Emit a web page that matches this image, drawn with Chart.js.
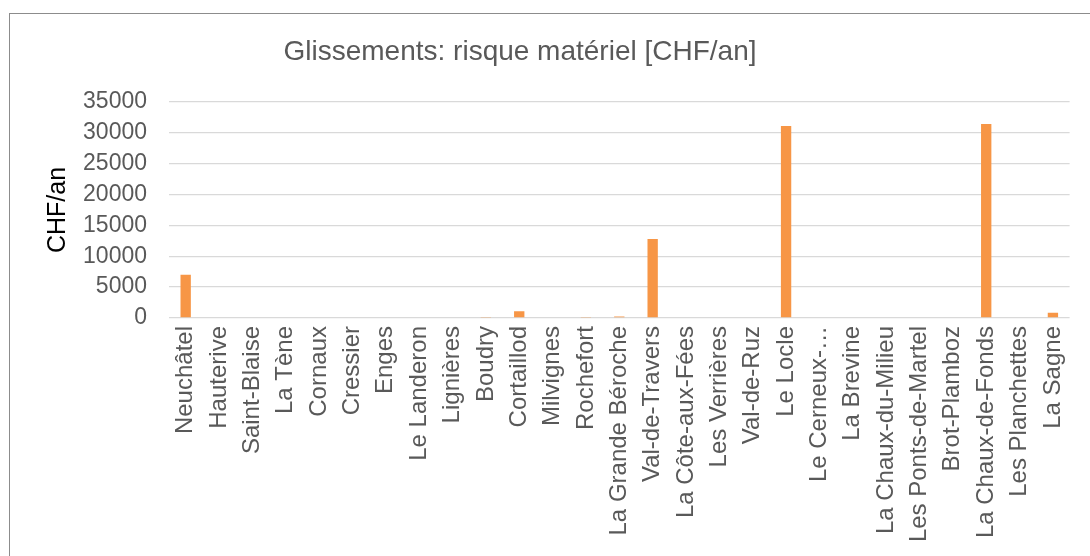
<!DOCTYPE html>
<html>
<head>
<meta charset="utf-8">
<script src="https://cdn.jsdelivr.net/npm/chart.js@4"></script>
<style>
  html, body { margin: 0; padding: 0; background: #fff; overflow: hidden; width: 1090px; height: 556px; }
  #frame { position: absolute; left: 9px; top: 13px; width: 1200px; height: 700px; border: 1px solid #8c8c8c; }
  #wrap { position: absolute; left: 9px; top: 13px; width: 1081px; height: 543px; }
</style>
</head>
<body>
<div id="frame"></div>
<div id="wrap"><canvas id="chart"></canvas></div>
<script>
// --- data ---
const communes = [
  'Neuchâtel', 'Hauterive', 'Saint-Blaise', 'La Tène', 'Cornaux', 'Cressier', 'Enges',
  'Le Landeron', 'Lignières', 'Boudry', 'Cortaillod', 'Milvignes', 'Rochefort',
  'La Grande Béroche', 'Val-de-Travers', 'La Côte-aux-Fées', 'Les Verrières', 'Val-de-Ruz',
  'Le Locle', 'Le Cerneux-…', 'La Brevine', 'La Chaux-du-Milieu', 'Les Ponts-de-Martel',
  'Brot-Plamboz', 'La Chaux-de-Fonds', 'Les Planchettes', 'La Sagne'
];
const risqueMateriel = [
  7000, 0, 0, 0, 0, 0, 0,
  0, 0, 180, 1100, 0, 170,
  230, 12800, 0, 0, 0,
  31100, 0, 0, 0, 0,
  0, 31450, 0, 870
];
const yTicks = [0, 5000, 10000, 15000, 20000, 25000, 30000, 35000];

const titleText = 'Glissements: risque matériel [CHF/an]';
const grey = '#595959';
const fontFamily = '"Liberation Sans", Arial, sans-serif';

// title drawn at a fixed spot (it is not centred over the plot in the original)
const titlePlugin = {
  id: 'fixedTitle',
  afterDraw(chart) {
    const c = chart.ctx;
    c.save();
    c.font = '28px ' + fontFamily;
    c.fillStyle = grey;
    c.textAlign = 'center';
    c.textBaseline = 'middle';
    c.fillText(titleText, 511, 39);
    c.restore();
  }
};

const ctx = document.getElementById('chart').getContext('2d');
new Chart(ctx, {
  type: 'bar',
  data: {
    labels: communes,
    datasets: [{
      data: risqueMateriel,
      backgroundColor: '#f79646',
      borderWidth: 0,
      categoryPercentage: 1,
      barPercentage: 0.31
    }]
  },
  options: {
    responsive: true,
    maintainAspectRatio: false,
    animation: false,
    layout: { padding: { top: 89, right: 15, left: 0, bottom: 0 } },
    plugins: {
      legend: { display: false },
      title: { display: false },
      tooltip: { enabled: false }
    },
    scales: {
      x: {
        grid: { display: false, drawTicks: false },
        border: { display: false },
        ticks: {
          autoSkip: false,
          minRotation: 90,
          maxRotation: 90,
          padding: 8,
          color: grey,
          font: { family: fontFamily, size: 24 }
        },
        afterFit: (scale) => { scale.height = 238; }
      },
      y: {
        min: 0,
        max: 35000,
        afterBuildTicks: (scale) => { scale.ticks = yTicks.map(v => ({ value: v })); },
        grid: { color: '#d9d9d9', lineWidth: 1.3, drawTicks: false },
        border: { display: false },
        ticks: {
          padding: 22,
          color: grey,
          font: { family: fontFamily, size: 23 },
          callback: (v) => String(v)
        },
        title: {
          display: true,
          text: 'CHF/an',
          color: '#000',
          padding: { top: 34, bottom: 0 },
          font: { family: fontFamily, size: 25 }
        },
        afterFit: (scale) => { scale.width = 160; }
      }
    }
  },
  plugins: [titlePlugin]
});
</script>
</body>
</html>
